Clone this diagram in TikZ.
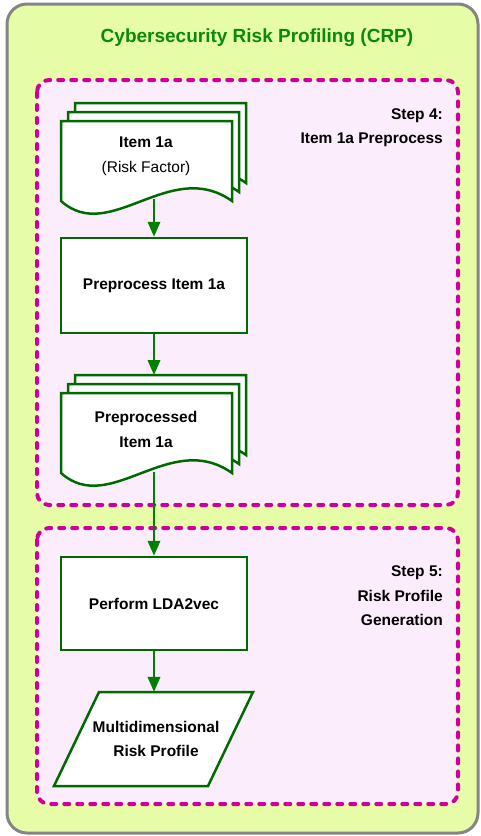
\documentclass[tikz,border=0pt]{standalone}
\usepackage{fontspec}
\setmainfont{Liberation Sans}
\usetikzlibrary{arrows.meta}
\usetikzlibrary{calc}
\definecolor{framegray}{HTML}{858585}
\definecolor{framefill}{HTML}{E6FCA6}
\definecolor{stepfill}{HTML}{FCEDFC}
\definecolor{stepdash}{HTML}{CC0099}
\definecolor{boxgreen}{HTML}{006A00}
\definecolor{arrgreen}{HTML}{008000}
\definecolor{titlegreen}{HTML}{0A8A0A}
\tikzstyle{cframe}   = [fill=framefill, draw=framegray, line width=3pt, rounded corners=20pt]
\tikzstyle{cstepbox} = [fill=stepfill, draw=stepdash, line width=4pt, dash pattern=on 5pt off 8pt, line cap=round, rounded corners=12pt]
\tikzstyle{cbox}     = [fill=white, draw=boxgreen, line width=2.5pt, font=\fontsize{15.5}{25}\selectfont\bfseries, align=center]
\tikzstyle{cdoc}     = [fill=white, draw=boxgreen, line width=2.5pt]
\tikzstyle{ctext}    = [font=\fontsize{15.5}{25}\selectfont, align=center, inner sep=0pt]
\tikzstyle{clabel}   = [font=\fontsize{15.5}{24.5}\selectfont\bfseries, align=right, anchor=east, inner sep=0pt]
\tikzstyle{ctitle}   = [font=\fontsize{19}{22}\selectfont\bfseries, text=titlegreen]
\tikzstyle{carrow}   = [draw=arrgreen, line width=2.2pt, -{Triangle[length=15pt,width=12.5pt]}]
% one sheet of a document, #1,#2 = top left corner
\newcommand{\docsheet}[2]{%
  \filldraw[cdoc, shift={(#1,#2)}] (0,0) -- (171,0) -- (171,80)
    .. controls (109,36) and (49,124) .. (0,80) -- cycle;}
% three sheets, front one at #1,#2
\newcommand{\docstack}[2]{%
  \docsheet{#1+14}{#2-18}\docsheet{#1+7}{#2-9}\docsheet{#1}{#2}}

\begin{document}
\begin{tikzpicture}[x=1pt, y=-1pt]
  \useasboundingbox (0,0) rectangle (481,836);
  \filldraw[cframe] (7,4) rectangle (478,833);
  \node[ctitle] (title) at (257,38) {Cybersecurity Risk Profiling (CRP)};

  % step 4
  \filldraw[cstepbox] (37,80) rectangle (458,505);
  \node[clabel] (stepfour) at (443,127.5) {Step 4:\\Item 1a Preprocess};
  \docstack{61}{121}
  \node[ctext] (item) at (146,156) {\textbf{Item 1a}\\(Risk Factor)};
  \coordinate (itemout) at (154,199);
  \node[cbox, minimum width=186pt, minimum height=95pt] (prep) at (154,285.5) {Preprocess Item 1a};
  \docstack{61}{393}
  \node[ctext, font=\fontsize{15.5}{25}\selectfont\bfseries] (pitem) at (146,429.5) {Preprocessed\\Item 1a};
  \coordinate (pitemin) at (154,375);
  \coordinate (pitemout) at (154,472);

  % step 5
  \filldraw[cstepbox] (37,528) rectangle (458,804);
  \node[clabel] (stepfive) at (443,596) {Step 5:\\Risk Profile\\Generation};
  \node[cbox, minimum width=186pt, minimum height=93pt] (lda) at (154,603.5) {Perform LDA2vec};
  \filldraw[cdoc] (99,692) -- (253,692) -- (208,786) -- (54,786) -- cycle;
  \node[ctext, font=\fontsize{15.5}{24}\selectfont\bfseries, minimum height=94pt] (prof) at (156,739) {Multidimensional\\Risk Profile};

  % arrows
  \draw[carrow] (itemout) -- (prep.north);
  \draw[carrow] (prep.south) -- (pitemin);
  \draw[carrow] (pitemout) -- (lda.north);
  \draw[carrow] (lda.south) -- (lda.south |- prof.north);
\end{tikzpicture}
\end{document}
